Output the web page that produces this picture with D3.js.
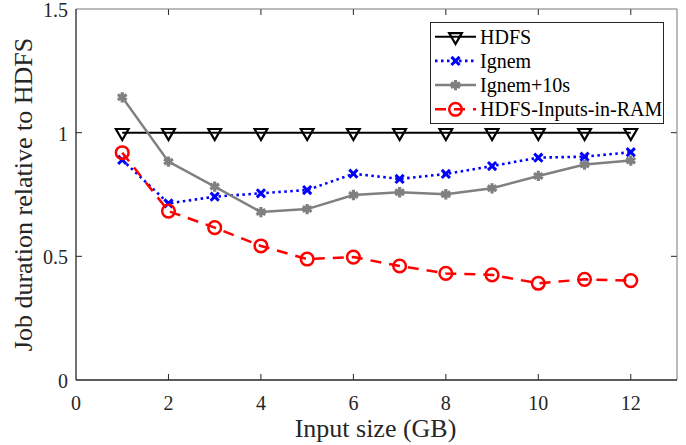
<!DOCTYPE html>
<html><head><meta charset="utf-8">
<script src="https://cdn.jsdelivr.net/npm/d3@7"></script>
<style>body{margin:0;background:#fff}svg{display:block}</style>
</head><body>
<svg id="chart" width="686" height="445"></svg>
<script>
const sizes = [1,2,3,4,5,6,7,8,9,10,11,12];
const hdfs = [1,1,1,1,1,1,1,1,1,1,1,1];
const ignem = [0.89,0.714,0.741,0.755,0.768,0.834,0.813,0.833,0.865,0.899,0.903,0.921];
const ignem10 = [1.143,0.883,0.782,0.679,0.691,0.748,0.759,0.751,0.775,0.825,0.871,0.887];
const inRam = [0.919,0.683,0.616,0.542,0.489,0.497,0.461,0.431,0.425,0.391,0.407,0.402];
const xTicks = [0,2,4,6,8,10,12];
const yTicks = [0,0.5,1,1.5];
const yTickLabels = ["0","0.5","1","1.5"];
const seriesNames = ["HDFS","Ignem","Ignem+10s","HDFS-Inputs-in-RAM"];

const FONT = "'Liberation Serif', 'Times New Roman', serif";
const svg = d3.select("#chart").style("font-family", FONT);
const L=76, R=677, T=9, B=380;
const x = d3.scaleLinear().domain([0,13]).range([L,R]);
const y = d3.scaleLinear().domain([0,1.5]).range([B,T]);

const styles = [
  {data:hdfs, color:"#000", width:2, dash:null, sym:d3.symbolTriangle, size:70, rot:180, sw:2.2, fill:"none"},
  {data:ignem, color:"#0000ff", width:2.6, dash:"2.5,3.5", sym:d3.symbolTimes, size:45, rot:0, sw:3, fill:"none"},
  {data:ignem10, color:"#808080", width:2.5, dash:null, sym:d3.symbolAsterisk, size:75, rot:0, sw:3.2, fill:"none"},
  {data:inRam, color:"#ff0000", width:2.5, dash:"11,8", sym:d3.symbolCircle, size:125, rot:0, sw:2.5, fill:"none"}
];

const g = svg.append("g");
xTicks.forEach(t=>{
  if(t>0){
    g.append("line").attr("x1",x(t)).attr("x2",x(t)).attr("y1",B).attr("y2",B-6).attr("stroke","#262626");
    g.append("line").attr("x1",x(t)).attr("x2",x(t)).attr("y1",T).attr("y2",T+6).attr("stroke","#262626");
  }
  g.append("text").attr("x",x(t)).attr("y",410).attr("text-anchor","middle").attr("font-size",20).attr("fill","#262626").text(t);
});
yTicks.forEach((t,i)=>{
  if(t>0 && t<1.5){
    g.append("line").attr("x1",L).attr("x2",L+6).attr("y1",y(t)).attr("y2",y(t)).attr("stroke","#262626");
    g.append("line").attr("x1",R).attr("x2",R-6).attr("y1",y(t)).attr("y2",y(t)).attr("stroke","#262626");
  }
  g.append("text").attr("x",L-8).attr("y",y(t)+8).attr("text-anchor","end").attr("font-size",20).attr("fill","#262626").text(yTickLabels[i]);
});
g.append("line").attr("x1",L).attr("x2",R).attr("y1",T).attr("y2",T).attr("stroke","#777");
g.append("line").attr("x1",R).attr("x2",R).attr("y1",T).attr("y2",B).attr("stroke","#777");
g.append("line").attr("x1",L).attr("x2",L).attr("y1",T).attr("y2",B).attr("stroke","#262626").attr("stroke-width",1.3);
g.append("line").attr("x1",L).attr("x2",R).attr("y1",B).attr("y2",B).attr("stroke","#262626").attr("stroke-width",1.3);

svg.append("text").attr("x",(L+R)/2-1).attr("y",437).attr("text-anchor","middle").attr("font-size",26).attr("fill","#262626").text("Input size (GB)");
svg.append("text").attr("transform",`translate(32,${(T+B)/2}) rotate(-90)`).attr("text-anchor","middle").attr("font-size",26).attr("fill","#262626").text("Job duration relative to HDFS");

const line = d3.line().x((d,i)=>x(sizes[i])).y(d=>y(d));
styles.forEach(s=>{
  const p = svg.append("path").datum(s.data).attr("d",line).attr("fill","none").attr("stroke",s.color).attr("stroke-width",s.width);
  if(s.dash) p.attr("stroke-dasharray",s.dash);
  svg.selectAll(null).data(s.data).enter().append("path")
    .attr("d",d3.symbol(s.sym,s.size))
    .attr("transform",(d,i)=>`translate(${x(sizes[i])},${y(d)}) rotate(${s.rot})`)
    .attr("fill",s.fill).attr("stroke",s.color).attr("stroke-width",s.sw);
});

const lg = svg.append("g");
lg.append("rect").attr("x",430.5).attr("y",22.5).attr("width",233).attr("height",101).attr("fill","#fff").attr("stroke","#262626").attr("stroke-width",1);
styles.forEach((s,i)=>{
  const cy = 36.7 + i*24.2;
  const ln = lg.append("line").attr("x1",435).attr("x2",476).attr("y1",cy).attr("y2",cy).attr("stroke",s.color).attr("stroke-width",s.width);
  if(s.dash) ln.attr("stroke-dasharray", s.dash);
  lg.append("path").attr("d",d3.symbol(s.sym,s.size)).attr("transform",`translate(455.5,${cy}) rotate(${s.rot})`)
    .attr("fill",s.fill).attr("stroke",s.color).attr("stroke-width",s.sw);
  lg.append("text").attr("x",480).attr("y",cy+7).attr("font-size",20).attr("fill","#000").text(seriesNames[i]);
});
</script>
</body></html>
